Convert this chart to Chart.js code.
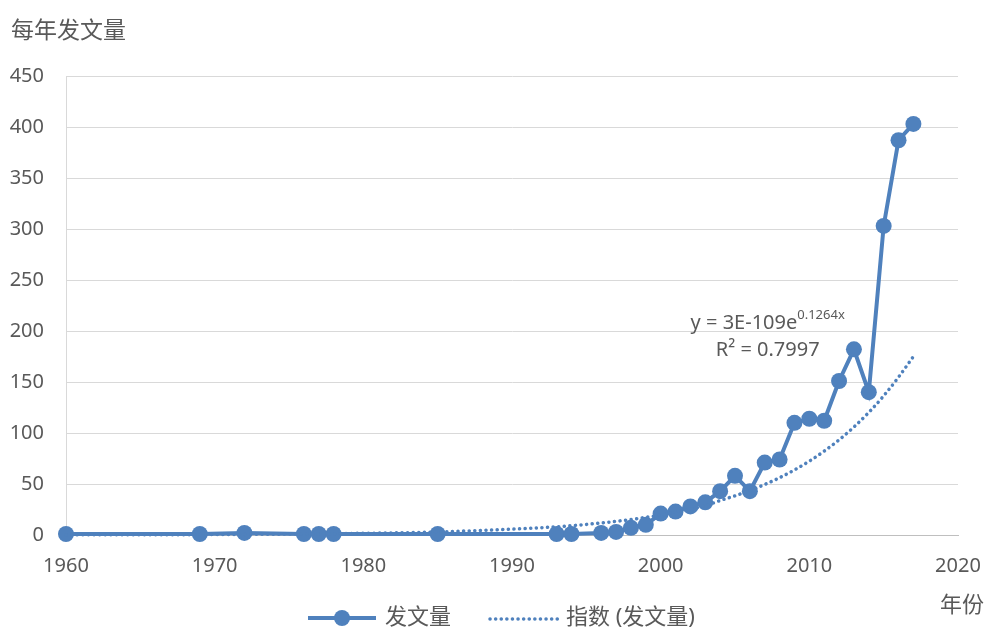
<!DOCTYPE html>
<html>
<head>
<meta charset="utf-8">
<script src="https://cdn.jsdelivr.net/npm/chart.js@4/dist/chart.umd.min.js"></script>
<style>
  html, body { margin: 0; padding: 0; background: #fff; }
  #wrap { width: 990px; height: 630px; position: relative; }
</style>
</head>
<body>
<div id="wrap"><canvas id="grafico"></canvas></div>
<script>
const anios = [1960, 1969, 1972, 1976, 1977, 1978, 1985, 1993, 1994, 1996, 1997, 1998, 1999,
  2000, 2001, 2002, 2003, 2004, 2005, 2006, 2007, 2008, 2009, 2010, 2011, 2012, 2013, 2014,
  2015, 2016, 2017];
const fawenliang = [1, 1, 2, 1, 1, 1, 1, 1, 1, 2, 3, 7, 10,
  21, 23, 28, 32, 43, 58, 43, 71, 74, 110, 114, 112, 151, 182, 140,
  303, 387, 403];
// trend line at the same years
const tendencia = [0.1, 0.4, 0.6, 1.0, 1.1, 1.3, 3.0, 8.0, 9.1, 11.8, 13.4, 15.2, 17.3,
  19.6, 22.3, 25.3, 28.7, 33.8, 38.4, 43.6, 49.5, 56.2, 63.8, 72.4, 82.2, 93.3, 105.9, 120.2,
  136.4, 154.8, 175];
const xTicks = [1960, 1970, 1980, 1990, 2000, 2010, 2020];
const yTitulo = "每年发文量";
const xTitulo = "年份";
const ecuacion = "y = 3E-109e";
const exponente = "0.1264x";
const r2 = "R² = 0.7997";
const serieNombre = "发文量";
const tendNombre = "指数 (发文量)";

const azul = "#4f81bd";
const gris = "#595959";
const fuente = "'Noto Sans', 'Noto Sans CJK SC', sans-serif";
const punteado = [0.1, 5.5];

const toPts = (ys) => anios.map((a, i) => ({ x: a, y: ys[i] }));

/* texts: axis titles, equation and legend */
const extras = {
  id: "extras",
  afterDraw(chart) {
    const ctx = chart.ctx;
    const xs = chart.scales.x, ys = chart.scales.y;
    ctx.save();
    ctx.fillStyle = gris;
    ctx.textBaseline = "middle";
    ctx.font = "23px " + fuente;
    ctx.textAlign = "left";
    ctx.fillText(yTitulo, 11, 31);
    ctx.font = "22px " + fuente;
    ctx.fillText(xTitulo, 940, 606);

    // trendline equation
    const ex = xs.getPixelForValue(2007.2);
    ctx.font = "20px " + fuente;
    const w1 = ctx.measureText(ecuacion).width;
    ctx.font = "13px " + fuente;
    const w2 = ctx.measureText(exponente).width;
    let sx = ex - (w1 + w2) / 2;
    ctx.font = "20px " + fuente;
    ctx.fillText(ecuacion, sx, ys.getPixelForValue(208));
    ctx.font = "13px " + fuente;
    ctx.fillText(exponente, sx + w1, ys.getPixelForValue(215));
    ctx.font = "20px " + fuente;
    ctx.textAlign = "center";
    ctx.fillText(r2, ex, ys.getPixelForValue(181));

    // legend
    const ly = 618;
    ctx.strokeStyle = azul;
    ctx.lineWidth = 4;
    ctx.beginPath();
    ctx.moveTo(308, ly);
    ctx.lineTo(376, ly);
    ctx.stroke();
    ctx.fillStyle = azul;
    ctx.beginPath();
    ctx.arc(342, ly, 8, 0, Math.PI * 2);
    ctx.fill();
    ctx.lineWidth = 3.5;
    ctx.lineCap = "round";
    ctx.setLineDash(punteado);
    ctx.beginPath();
    ctx.moveTo(490, ly + 1);
    ctx.lineTo(558, ly + 1);
    ctx.stroke();
    ctx.setLineDash([]);
    ctx.fillStyle = gris;
    ctx.textAlign = "left";
    ctx.font = "22px " + fuente;
    ctx.fillText(serieNombre, 385, ly);
    ctx.fillText(tendNombre, 566, ly);
    ctx.restore();
  }
};

const config = {
  type: "line",
  data: {
    datasets: [
      {
        label: tendNombre,
        data: toPts(tendencia),
        borderColor: azul,
        borderWidth: 3.5,
        borderDash: punteado,
        borderCapStyle: "round",
        pointRadius: 0,
        cubicInterpolationMode: "monotone",
        fill: false,
        clip: false
      },
      {
        label: serieNombre,
        data: toPts(fawenliang),
        borderColor: azul,
        backgroundColor: azul,
        borderWidth: 4,
        pointRadius: 8,
        pointBorderWidth: 0,
        pointBackgroundColor: azul,
        tension: 0,
        fill: false,
        clip: false
      }
    ]
  },
  options: {
    responsive: false,
    animation: false,
    layout: { padding: { top: 76, right: 32, left: 0, bottom: 0 } },
    plugins: { legend: { display: false }, tooltip: { enabled: false } },
    scales: {
      x: {
        type: "linear",
        min: 1960,
        max: 2020,
        afterBuildTicks: (s) => { s.ticks = xTicks.map((v) => ({ value: v })); },
        afterFit: (s) => {
          s.height = 95;
          s.paddingLeft = 0;
          s.paddingRight = 0;
        },
        grid: { display: false, drawTicks: false },
        border: { display: true, color: "#bfbfbf", width: 1 },
        ticks: {
          padding: 19,
          color: gris,
          font: { family: fuente, size: 20 },
          maxRotation: 0,
          callback: (v) => String(v)
        }
      },
      y: {
        min: 0,
        max: 450,
        afterFit: (s) => { s.width = 66; },
        grid: { color: "#d9d9d9", lineWidth: 1, drawTicks: false },
        border: { display: true, color: "#d9d9d9", width: 1 },
        ticks: {
          stepSize: 50,
          padding: 22,
          color: gris,
          font: { family: fuente, size: 20 }
        }
      }
    }
  },
  plugins: [extras]
};

const canvas = document.getElementById("grafico");
canvas.width = 990;
canvas.height = 630;
new Chart(canvas, config);
</script>
</body>
</html>
